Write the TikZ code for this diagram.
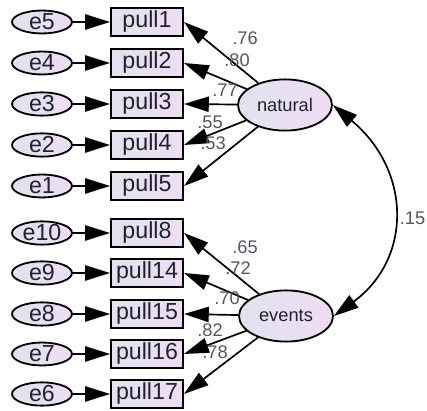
\documentclass[tikz,border=0pt]{standalone}
\usepackage{fontspec}
\setmainfont{Liberation Sans}
\usetikzlibrary{arrows.meta,shapes.geometric}
\definecolor{fillL}{HTML}{E0E3EE}
\definecolor{fillR}{HTML}{EFDCF4}
\definecolor{txtdark}{HTML}{22222E}
\definecolor{txtgray}{HTML}{555560}
\begin{document}
\begin{tikzpicture}[
    obs/.style={draw, line width=1.4pt, minimum width=1.8cm, minimum height=0.7cm,
      inner sep=0pt, left color=fillL, right color=fillR, text=txtdark,
      font=\fontsize{16.5}{17}\selectfont},
    err/.style={ellipse, draw, line width=1.3pt, minimum width=1.5cm, minimum height=0.52cm,
      inner sep=0pt, left color=fillL, right color=fillR, text=txtdark,
      font=\fontsize{16.5}{17}\selectfont},
    latent/.style={ellipse, draw, line width=1.3pt, minimum width=2.35cm, minimum height=1.28cm,
      inner sep=0pt, left color=fillL, right color=fillR, text=txtdark,
      font=\fontsize{13}{14}\selectfont},
    coef/.style={text=txtgray, inner sep=0pt, font=\fontsize{13}{14}\selectfont},
    path/.style={line width=1.2pt, -{Triangle[length=0.62cm,width=0.38cm]}}
  ]
  \useasboundingbox (0,0) rectangle (10.675,10.275);
  % Draw the observed variables and their errors
  \foreach \name/\err/\y in {pull1/e5/9.725, pull2/e4/8.7, pull3/e3/7.675,
      pull4/e2/6.65, pull5/e1/5.625, pull8/e10/4.45, pull14/e9/3.45,
      pull15/e8/2.425, pull16/e7/1.425, pull17/e6/0.425} {
    \node[obs] (\name) at (3.675,\y) {\name};
    \node[err] (\err) at (1.05,\y) {\err};
    \draw[path] (\err) -- (\name);
  }
  % Draw the latent variables
  \node[latent] (natural) at (7.125,7.65) {natural};
  \node[latent] (events) at (7.15,2.375) {events};
  % Draw arrows natural -> pull
  \foreach \name in {pull1,pull2,pull3,pull4,pull5}
    \draw[path] (natural) -- (\name.east);
  % Draw arrows events -> pull
  \foreach \name in {pull8,pull14,pull15,pull16,pull17}
    \draw[path] (events) -- (\name.east);
  % Loadings
  \node[coef] (c1) at (6.125,9.325) {.76};
  \node[coef] (c2) at (5.925,8.775) {.80};
  \node[coef] (c3) at (5.625,8.025) {.77};
  \node[coef] (c4) at (5.25,7.225) {.55};
  \node[coef] (c5) at (5.325,6.7) {.53};
  \node[coef] (c8) at (6.125,4.1) {.65};
  \node[coef] (c14) at (5.95,3.575) {.72};
  \node[coef] (c15) at (5.675,2.825) {.70};
  \node[coef] (c16) at (5.25,2.025) {.82};
  \node[coef] (c17) at (5.375,1.475) {.78};
  % Covariance
  \draw[line width=1.2pt, {Triangle[length=0.62cm,width=0.38cm]}-{Triangle[length=0.62cm,width=0.38cm]}]
    (natural.east) .. controls (10.3,6.0) and (10.3,3.8) .. (events.east);
  \node[coef, anchor=east] (cov) at (10.64,4.825) {.15};
\end{tikzpicture}
\end{document}
